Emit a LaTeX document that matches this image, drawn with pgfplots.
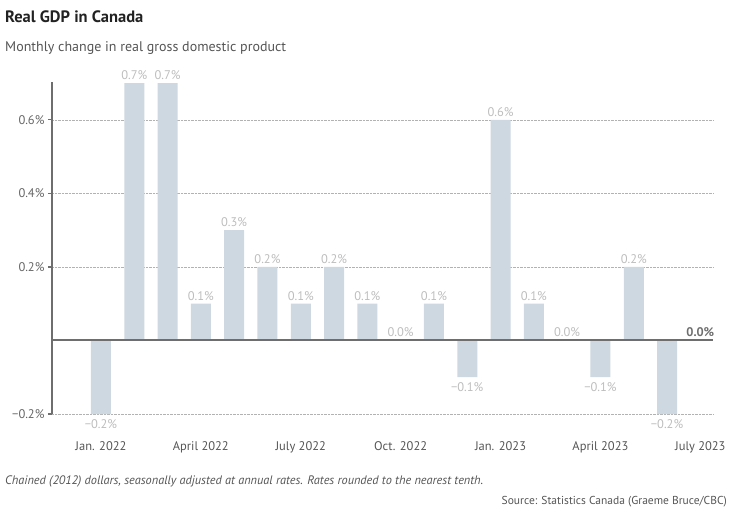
\documentclass[border=0pt]{standalone}
\usepackage{pgfplots}
\pgfplotsset{compat=1.18}
\usepackage{fontspec}
\setmainfont{PT Sans}
\definecolor{barc}{HTML}{CDD8E0}
\definecolor{axc}{HTML}{6E6E6E}
\definecolor{tickc}{HTML}{666666}
\definecolor{labc}{HTML}{BDBDBD}
\definecolor{titlec}{HTML}{222222}
\definecolor{subc}{HTML}{555555}
\begin{document}
\begin{tikzpicture}
\useasboundingbox (0pt,0pt) rectangle (734pt,512pt);
\node[anchor=base west, inner sep=0, font=\fontsize{16.5}{18}\selectfont\bfseries, text=titlec] at (5pt,489pt) {Real GDP in Canada};
\node[anchor=base west, inner sep=0, font=\fontsize{14}{16}\selectfont, text=subc] at (5pt,460pt) {Monthly change in real gross domestic product};
\node[anchor=base west, inner sep=0, font=\fontsize{12.3}{14}\selectfont\itshape, text=subc] at (5pt,28pt) {Chained (2012) dollars, seasonally adjusted at annual rates. Rates rounded to the nearest tenth.};
\node[anchor=base east, inner sep=0, font=\fontsize{11.5}{13}\selectfont, text=subc] at (727pt,8pt) {Source: Statistics Canada (Graeme Bruce/CBC)};
\begin{axis}[
  at={(52pt,98pt)}, anchor=south west, scale only axis,
  width=661pt, height=332pt,
  xmin=-1.47, xmax=18.38, ymin=-0.2, ymax=0.703,
  axis lines*=left,
  x axis line style={draw=none},
  y axis line style={axc, line width=1.6pt, -},
  xtick={0,3,6,9,12,15,18},
  xticklabels={Jan. 2022, April 2022, July 2022, Oct. 2022, Jan. 2023, April 2023, July 2023},
  x tick style={draw=none},
  xticklabel style={font=\fontsize{12.5}{14}\selectfont, text=subc, yshift=-20pt},
  ytick={-0.2,0.2,0.4,0.6},
  yticklabels={−0.2\%, 0.2\%, 0.4\%, 0.6\%},
  yticklabel style={font=\fontsize{12.5}{14}\selectfont, text=tickc},
  y tick style={axc, line width=1.2pt},
  tick align=outside, major tick length=4pt,
  ymajorgrids, y grid style={densely dotted, gray!60, line width=0.7pt},
  ybar, bar width=20pt, bar shift=0pt,
  nodes near coords, point meta=explicit symbolic,
  every node near coord/.append style={font=\fontsize{12.5}{14}\selectfont, text=labc},
  clip=false,
]
% months with growth of zero or more
\addplot[fill=barc, draw=none, every node near coord/.append style={anchor=south}] coordinates {
  (1,0.7) [0.7\%]
  (2,0.7) [0.7\%]
  (3,0.1) [0.1\%]
  (4,0.3) [0.3\%]
  (5,0.2) [0.2\%]
  (6,0.1) [0.1\%]
  (7,0.2) [0.2\%]
  (8,0.1) [0.1\%]
  (9,0.0) [0.0\%]
  (10,0.1) [0.1\%]
  (12,0.6) [0.6\%]
  (13,0.1) [0.1\%]
  (14,0.0) [0.0\%]
  (16,0.2) [0.2\%]
};
% months that shrank
\addplot[fill=barc, draw=none, every node near coord/.append style={anchor=north, yshift=-2pt}] coordinates {
  (0,-0.2) [−0.2\%]
  (11,-0.1) [−0.1\%]
  (15,-0.1) [−0.1\%]
  (17,-0.2) [−0.2\%]
};
% latest month
\addplot[fill=barc, draw=none, every node near coord/.append style={anchor=south, font=\fontsize{12.5}{14}\selectfont\bfseries, text=axc}] coordinates {
  (18,0.0) [0.0\%]
};
\draw[axc, line width=2pt] ({rel axis cs:0,0}|-{axis cs:0,0}) -- ({rel axis cs:1,0}|-{axis cs:0,0});
\end{axis}
\end{tikzpicture}
\end{document}
